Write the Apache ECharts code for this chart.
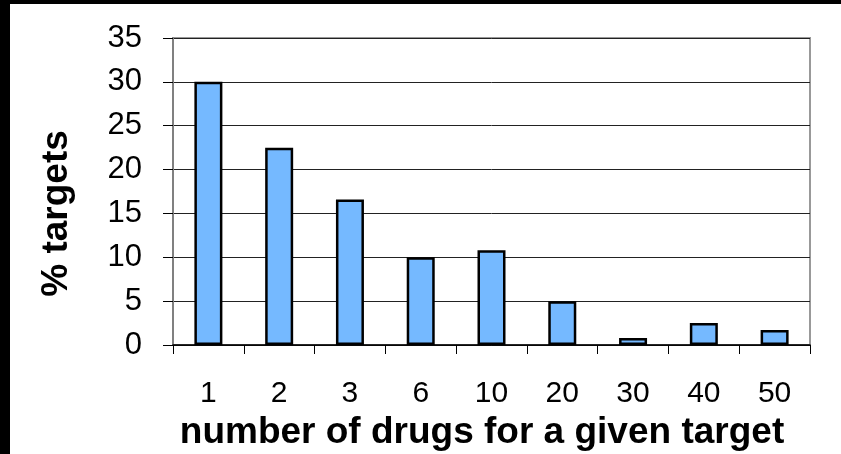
<!DOCTYPE html>
<html>
<head>
<meta charset="utf-8">
<script src="https://cdn.jsdelivr.net/npm/echarts@6/dist/echarts.min.js"></script>
<style>
  html, body { margin: 0; padding: 0; background: #000; }
  #chart { position: absolute; left: 10px; top: 4px; width: 831px; height: 450px; background: #fff; }
</style>
</head>
<body>
<div id="chart"></div>
<script>
// Number of drugs acting on a target (binned) and share of targets per bin
const categories = ['1', '2', '3', '6', '10', '20', '30', '40', '50'];
const pctTargets = [30, 22.5, 16.6, 10, 10.8, 5, 0.8, 2.5, 1.7];
const yMin = 0;
const yMax = 35;
const yStep = 5;

const FONT = '"Liberation Sans", Arial, sans-serif';

const chart = echarts.init(document.getElementById('chart'), null, { renderer: 'canvas' });

chart.setOption({
  backgroundColor: '#fff',
  animation: false,
  grid: {
    left: 163, right: 31, top: 34, bottom: 109,
    containLabel: false,
    outerBoundsMode: 'none',
    show: true, borderColor: '#999', borderWidth: 2, backgroundColor: 'transparent'
  },
  xAxis: {
    type: 'category',
    data: categories,
    name: 'number of drugs for a given target',
    nameLocation: 'middle',
    nameGap: 67,
    nameTextStyle: {
      fontFamily: FONT, fontSize: 37, fontWeight: 'bold', color: '#000',
      padding: [0, 19, 0, 0]
    },
    axisLine: { lineStyle: { color: '#000', width: 1.5 } },
    axisTick: { show: true, length: 9, lineStyle: { color: '#000', width: 1 } },
    axisLabel: { fontFamily: FONT, fontSize: 30, color: '#000', margin: 34 },
    splitLine: { show: false }
  },
  yAxis: {
    type: 'value',
    min: yMin, max: yMax, interval: yStep,
    name: '% targets',
    nameLocation: 'middle',
    nameRotate: 90,
    nameGap: 98,
    nameTextStyle: {
      fontFamily: FONT, fontSize: 37, fontWeight: 'bold', color: '#000',
      padding: [0, 44, 0, 0]
    },
    axisLine: { show: true, lineStyle: { color: '#808080', width: 2 } },
    axisTick: { show: true, length: 10, lineStyle: { color: '#000', width: 1 } },
    axisLabel: { fontFamily: FONT, fontSize: 31, color: '#000', margin: 31 },
    splitLine: { show: true, lineStyle: { color: '#222', width: 1 } }
  },
  series: [{
    type: 'bar',
    data: pctTargets,
    barWidth: 28,
    itemStyle: { color: '#75B9FF', borderColor: '#000', borderWidth: 2.5 },
    emphasis: { disabled: true }
  }]
});
</script>
</body>
</html>
